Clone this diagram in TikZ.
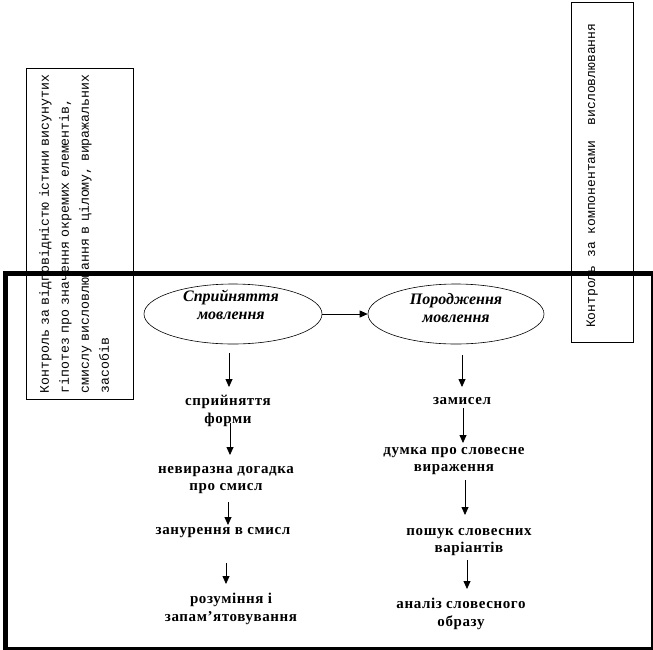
\documentclass[tikz,border=0pt]{standalone}
\usepackage{fontspec}
\setmainfont{Liberation Serif}
\newfontfamily\monof{Liberation Mono}
\newfontfamily\lblf{Liberation Serif}[LetterSpace=4]
\usetikzlibrary{shapes.geometric,arrows.meta}
\begin{document}
\begin{tikzpicture}[x=1pt,y=-1pt,
  lbl/.style={font=\lblf\fontsize{15}{17.8}\selectfont\bfseries, align=center, inner sep=0pt},
  ovaltxt/.style={font=\fontsize{16}{18.5}\selectfont\bfseries\itshape, align=center, inner sep=0pt},
  oval/.style={draw, ellipse, line width=0.6pt, minimum width=178pt, minimum height=60pt, inner sep=0pt},
  arr/.style={line width=0.8pt, -{Triangle[width=7pt,length=8pt]}},
  vbox/.style={draw, line width=0.8pt, inner sep=0pt, anchor=north west},
  vtxt/.style={font=\monof\fontsize{13.2}{20}\selectfont, rotate=90, inner sep=0pt},
  framebox/.style={draw, line width=5pt, inner sep=0pt, anchor=north west}
  ]
\useasboundingbox (0,0) rectangle (653,649);
% side boxes
\node[vbox, minimum width=107pt, minimum height=331pt] (lbox) at (26,68) {};
\node[vtxt, anchor=north west, text width=330pt, align=left] (ltxt) at (39,393.5)
  {Контроль за відповідністю істини висунутих\\гіпотез про значення окремих елементів,\\смислу висловлювання в цілому, виражальних\\засобів};
\node[vbox, minimum width=62pt, minimum height=340pt] (rbox) at (571,2) {};
\node[vtxt, font=\monof\fontsize{13}{20}\selectfont, anchor=base west] (rtxt) at (595,328)
  {Контроль за компонентами\ \ висловлювання};
% frame
\node[framebox, minimum width=648pt, minimum height=376pt] (frame) at (2.5,270.5) {};
% ellipses
\node[oval] (e1) at (233,314) {};
\node[ovaltxt] (e1t) at (231,305) {Сприйняття\\мовлення};
\node[oval, minimum width=176pt] (e2) at (456,314) {};
\node[ovaltxt] (e2t) at (456,308) {Породження\\мовлення};
\draw[arr] (e1.east) -- (e2.west);
% left column
\node[lbl] (t1) at (228,411) {сприйняття\\форми};
\node[lbl] (t2) at (226,480) {невиразна догадка\\про смисл};
\node[lbl] (t3) at (223,533) {занурення в смисл};
\node[lbl] (t4) at (231,609) {розуміння і\\запам’ятовування};
% right column
\node[lbl] (r1) at (462,401) {замисел};
\node[lbl] (r2) at (454,461) {думка про словесне\\вираження};
\node[lbl] (r3) at (469,542) {пошук словесних\\варіантів};
\node[lbl] (r4) at (461,614) {аналіз словесного\\образу};
% arrow end points
\coordinate (a1s) at (229,353); \coordinate (a1e) at (229,387);
\coordinate (a2s) at (230,423); \coordinate (a2e) at (230,455);
\coordinate (a3s) at (228,502); \coordinate (a3e) at (228,525);
\coordinate (a4s) at (226,563); \coordinate (a4e) at (226,584);
\coordinate (b1s) at (462,355); \coordinate (b1e) at (462,387);
\coordinate (b2s) at (463,408); \coordinate (b2e) at (463,443);
\coordinate (b3s) at (465,480); \coordinate (b3e) at (465,515);
\coordinate (b4s) at (467,560); \coordinate (b4e) at (467,589);
\foreach \s/\e in {a1s/a1e,a2s/a2e,a3s/a3e,a4s/a4e,b1s/b1e,b2s/b2e,b3s/b3e,b4s/b4e}
  \draw[arr] (\s) -- (\e);
\end{tikzpicture}
\end{document}
